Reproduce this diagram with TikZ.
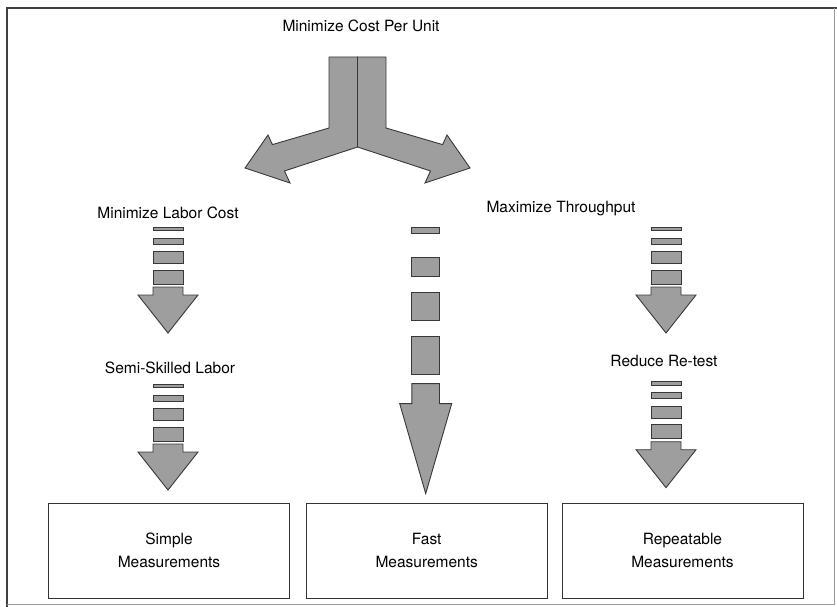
\documentclass[tikz,border=0pt]{standalone}
\usepackage{fontspec}
\newfontfamily\heros{TeX Gyre Heros}
\usetikzlibrary{calc}
\newcommand\lblfont{\heros\fontsize{15.5}{23.5}\selectfont}
\tikzset{
  blk/.style={fill=black!38, draw=black!78, line width=0.9pt, line join=miter},
  lbl/.style={font=\lblfont, inner sep=0pt, anchor=base},
  measbox/.style={draw=black!80, line width=1pt, minimum width=241pt, minimum height=95pt,
    align=center, font=\lblfont},
  dashblk/.pic={
    \foreach \a/\b in {0/3.5, 11/17, 24.5/36.5, 43/57}
      \draw[blk] (-15,\a) rectangle (15,\b);
    \draw[blk] (-15,60) -- (15,60) -- (15,68) -- (30,68) -- (0,106) -- (-30,68) -- (-15,68) -- cycle;
  },
  longblk/.pic={
    \foreach \a/\b in {0/6.6, 30/49, 65/93.3, 109/147.6}
      \draw[blk] (-13.8,\a) rectangle (13.8,\b);
    \draw[blk] (-13.8,156.6) -- (13.8,156.6) -- (13.8,176.6) -- (26,176.6) -- (0,266.6)
      -- (-26,176.6) -- (-13.8,176.6) -- cycle;
  }
}
\begin{document}
\begin{tikzpicture}[x=1pt,y=-1pt]
\useasboundingbox (0,0) rectangle (837,607);
\draw[black!75, line width=1.2pt] (7,607) -- (7,8) -- (837,8);
\draw[black!40, line width=0.8pt] (834,8) -- (834,604) -- (7,604);
% labels
\draw (361,31.7) node[lbl] (cost) {Minimize Cost Per Unit};
\draw (168,218) node[lbl] (labor) {Minimize Labor Cost};
\draw (561,212) node[lbl] (thru) {Maximize Throughput};
\draw (170,373) node[lbl] (semi) {Semi-Skilled Labor};
\draw (664,366.7) node[lbl] (test) {Reduce Re-test};
\draw (169,550.5) node[measbox] (simple) {Simple\\Measurements};
\draw (426.7,550.5) node[measbox] (fast) {Fast\\Measurements};
\draw (682.5,550.5) node[measbox] (rep) {Repeatable\\Measurements};
% split arrow
\draw[blk] (357.5,57) -- (329,57) -- (329,128) -- (272.4,144.6) -- (268,135) -- (245,168)
  -- (290,183) -- (284.5,171) -- (357.5,147) -- cycle;
\draw[blk] (357.5,57) -- (386,57) -- (386,128) -- (442.6,144.6) -- (447,135) -- (470,168)
  -- (425,183) -- (430.5,171) -- (357.5,147) -- cycle;
% down arrows
\pic at ($(labor.base)+(0,9)$) {dashblk};
\pic at ($(test.base |- labor.base)+(2,9)$) {dashblk};
\pic at ($(fast.north |- labor.base)+(-1,9)$) {longblk};
\pic at ($(labor.base |- semi.base)+(0,11)$) {dashblk};
\pic at ($(test.base)+(2,15)$) {dashblk};
\end{tikzpicture}
\end{document}
